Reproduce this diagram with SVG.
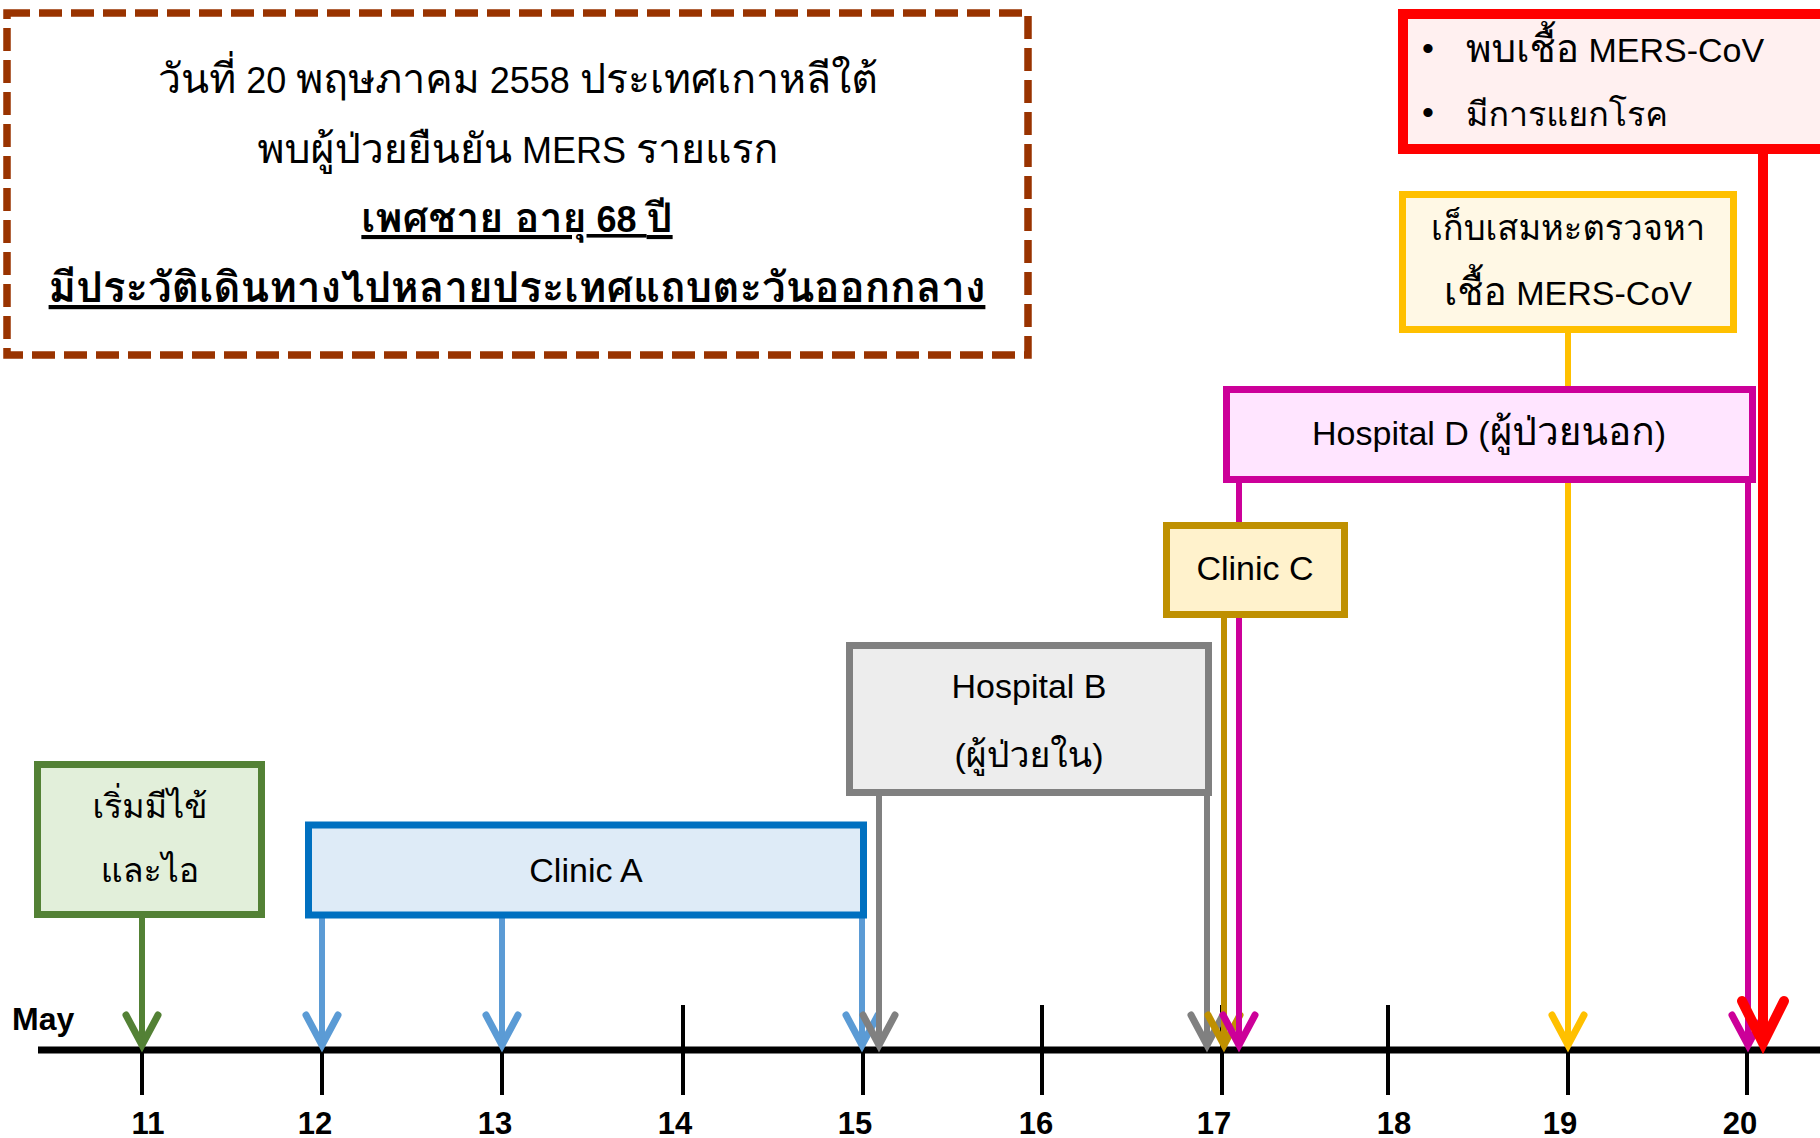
<svg xmlns="http://www.w3.org/2000/svg" width="1820" height="1138" viewBox="0 0 1820 1138">
<style>
text{font-family:"Liberation Sans","Loma","Noto Sans Thai Looped",sans-serif;fill:#000}
.th{font-size:114%}
.th2{font-size:105%}
.t{font-size:34px;text-anchor:middle}
.h{font-size:36px;text-anchor:middle}
.hb{font-size:36px;text-anchor:middle;font-weight:bold;text-decoration:underline}
.ax{font-size:31px;font-weight:bold;text-anchor:middle}
.tick{stroke:#000;stroke-width:4}
.c{fill:none;stroke-width:6}
</style>
<defs>
<marker id="mG" markerUnits="userSpaceOnUse" viewBox="-40 -22 50 44" markerWidth="50" markerHeight="44" refX="0" refY="0" orient="auto" overflow="visible"><path d="M-30,-16 L0,0 L-30,16" fill="none" stroke="#538135" stroke-width="7" stroke-linecap="round"/></marker>
<marker id="mB" markerUnits="userSpaceOnUse" viewBox="-40 -22 50 44" markerWidth="50" markerHeight="44" refX="0" refY="0" orient="auto" overflow="visible"><path d="M-30,-16 L0,0 L-30,16" fill="none" stroke="#5B9BD5" stroke-width="7" stroke-linecap="round"/></marker>
<marker id="mS" markerUnits="userSpaceOnUse" viewBox="-40 -22 50 44" markerWidth="50" markerHeight="44" refX="0" refY="0" orient="auto" overflow="visible"><path d="M-30,-16 L0,0 L-30,16" fill="none" stroke="#808080" stroke-width="7" stroke-linecap="round"/></marker>
<marker id="mO" markerUnits="userSpaceOnUse" viewBox="-40 -22 50 44" markerWidth="50" markerHeight="44" refX="0" refY="0" orient="auto" overflow="visible"><path d="M-30,-16 L0,0 L-30,16" fill="none" stroke="#BF9000" stroke-width="7" stroke-linecap="round"/></marker>
<marker id="mM" markerUnits="userSpaceOnUse" viewBox="-40 -22 50 44" markerWidth="50" markerHeight="44" refX="0" refY="0" orient="auto" overflow="visible"><path d="M-30,-16 L0,0 L-30,16" fill="none" stroke="#CC0099" stroke-width="7" stroke-linecap="round"/></marker>
<marker id="mY" markerUnits="userSpaceOnUse" viewBox="-40 -22 50 44" markerWidth="50" markerHeight="44" refX="0" refY="0" orient="auto" overflow="visible"><path d="M-30,-16 L0,0 L-30,16" fill="none" stroke="#FFC000" stroke-width="7" stroke-linecap="round"/></marker>
<marker id="mR" markerUnits="userSpaceOnUse" viewBox="-50 -28 60 56" markerWidth="60" markerHeight="56" refX="0" refY="0" orient="auto" overflow="visible"><path d="M-42,-21 L0,0 L-42,21" fill="none" stroke="#FF0000" stroke-width="10" stroke-linecap="round"/></marker>
</defs>
<rect width="1820" height="1138" fill="#fff"/>
<g id="timeline">
<line x1="38" y1="1050" x2="1820" y2="1050" stroke="#000" stroke-width="7"/>
<line class="tick" x1="142" y1="1005" x2="142" y2="1095"/>
<line class="tick" x1="322" y1="1005" x2="322" y2="1095"/>
<line class="tick" x1="502" y1="1005" x2="502" y2="1095"/>
<line class="tick" x1="683" y1="1005" x2="683" y2="1095"/>
<line class="tick" x1="863" y1="1005" x2="863" y2="1095"/>
<line class="tick" x1="1042" y1="1005" x2="1042" y2="1095"/>
<line class="tick" x1="1222" y1="1005" x2="1222" y2="1095"/>
<line class="tick" x1="1388" y1="1005" x2="1388" y2="1095"/>
<line class="tick" x1="1568" y1="1005" x2="1568" y2="1095"/>
<line class="tick" x1="1747" y1="1005" x2="1747" y2="1095"/>
<text x="12" y="1030" font-size="32" font-weight="bold">May</text>
<text class="ax" x="148" y="1134">11</text>
<text class="ax" x="315" y="1134">12</text>
<text class="ax" x="495" y="1134">13</text>
<text class="ax" x="675" y="1134">14</text>
<text class="ax" x="855" y="1134">15</text>
<text class="ax" x="1036" y="1134">16</text>
<text class="ax" x="1214" y="1134">17</text>
<text class="ax" x="1394" y="1134">18</text>
<text class="ax" x="1560" y="1134">19</text>
<text class="ax" x="1740" y="1134">20</text>
</g>
<g id="connectors">
<line class="c" x1="142" y1="915" x2="142" y2="1045" stroke="#538135" marker-end="url(#mG)"/>
<line class="c" x1="322" y1="915" x2="322" y2="1045" stroke="#5B9BD5" marker-end="url(#mB)"/>
<line class="c" x1="502" y1="915" x2="502" y2="1045" stroke="#5B9BD5" marker-end="url(#mB)"/>
<line class="c" x1="862" y1="915" x2="862" y2="1045" stroke="#5B9BD5" marker-end="url(#mB)"/>
<line class="c" x1="879" y1="793" x2="879" y2="1045" stroke="#808080" marker-end="url(#mS)"/>
<line class="c" x1="1207" y1="793" x2="1207" y2="1045" stroke="#808080" marker-end="url(#mS)"/>
<line class="c" x1="1224" y1="615" x2="1224" y2="1045" stroke="#BF9000" marker-end="url(#mO)"/>
<line class="c" x1="1239" y1="480" x2="1239" y2="1045" stroke="#CC0099" marker-end="url(#mM)"/>
<line class="c" x1="1748" y1="480" x2="1748" y2="1045" stroke="#CC0099" marker-end="url(#mM)"/>
<line class="c" x1="1568" y1="330" x2="1568" y2="1045" stroke="#FFC000" marker-end="url(#mY)"/>
<line x1="1763" y1="150" x2="1763" y2="1043" fill="none" stroke="#FF0000" stroke-width="10" marker-end="url(#mR)"/>
</g>
<g id="summary">
<rect x="7" y="13" width="1021" height="342" fill="#fff" stroke="#993300" stroke-width="7.5" stroke-dasharray="23 9"/>
<text class="h" x="518" y="93"><tspan class="th">วันที่</tspan> 20 <tspan class="th">พฤษภาคม</tspan> 2558 <tspan class="th">ประเทศเกาหลีใต้</tspan></text>
<text class="h" x="518" y="163"><tspan class="th">พบผู้ป่วยยืนยัน</tspan> MERS <tspan class="th">รายแรก</tspan></text>
<text class="hb" x="517" y="232"><tspan class="th">เพศชาย อายุ</tspan> 68 <tspan class="th">ปี</tspan></text>
<text class="hb" x="517" y="302" style="font-size:42px">มีประวัติเดินทางไปหลายประเทศแถบตะวันออกกลาง</text>
</g>
<g id="onset">
<rect x="37.5" y="764.5" width="224" height="150" fill="#E2EFDA" stroke="#538135" stroke-width="7"/>
<text class="t" x="150" y="818">เริ่มมีไข้</text>
<text class="t" x="150" y="882">และไอ</text>
</g>
<g id="clinicA">
<rect x="308.5" y="825" width="555" height="90" fill="#DEEBF7" stroke="#0070C0" stroke-width="7"/>
<text class="t" x="586" y="882">Clinic A</text>
</g>
<g id="hospitalB">
<rect x="849.5" y="645.5" width="359" height="147" fill="#EDEDED" stroke="#808080" stroke-width="7"/>
<text class="t" x="1029" y="698">Hospital B</text>
<text class="t" x="1029" y="767">(<tspan class="th2">ผู้ป่วยใน</tspan>)</text>
</g>
<g id="clinicC">
<rect x="1166.5" y="525.5" width="178" height="89" fill="#FFF2CC" stroke="#BF9000" stroke-width="7"/>
<text class="t" x="1255" y="580">Clinic C</text>
</g>
<g id="hospitalD">
<rect x="1226.5" y="389.5" width="526" height="90" fill="#FFE5FF" stroke="#CC0099" stroke-width="7"/>
<text class="t" x="1489" y="445">Hospital D (<tspan class="th">ผู้ป่วยนอก</tspan>)</text>
</g>
<g id="sputum">
<rect x="1402.5" y="194.5" width="331" height="135" fill="#FFF8E5" stroke="#FFC000" stroke-width="7"/>
<text class="t" x="1568" y="240" style="font-size:34.5px">เก็บเสมหะตรวจหา</text>
<text class="t" x="1568" y="305"><tspan class="th">เชื้อ</tspan> MERS-CoV</text>
</g>
<g id="result">
<rect x="1403" y="14" width="440" height="135" fill="#FFF0F0" stroke="#FF0000" stroke-width="10"/>
<text x="1422" y="60" font-size="34">•</text>
<text x="1466" y="62" font-size="34"><tspan class="th">พบเชื้อ</tspan> MERS-CoV</text>
<text x="1422" y="124" font-size="34">•</text>
<text x="1466" y="126" font-size="34">มีการแยกโรค</text>
</g>
</svg>
